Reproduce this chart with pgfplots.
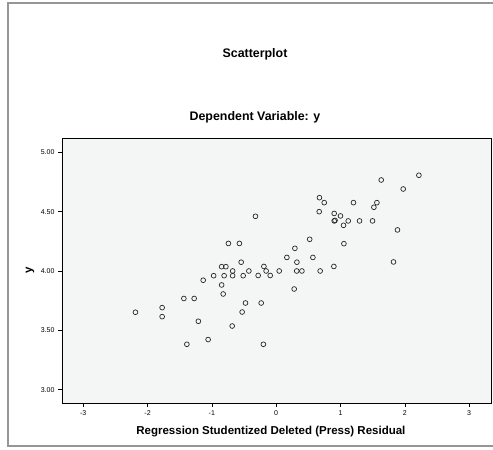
\documentclass[border=0pt]{standalone}
\usepackage{pgfplots}
\pgfplotsset{compat=1.18}
\usepackage{fontspec}
\setmainfont{Liberation Sans}
\definecolor{plotbg}{RGB}{244,246,246}
\definecolor{framegray}{RGB}{150,150,150}
\begin{document}
\begin{tikzpicture}
\fill[white, overlay] (-1000pt,-1000pt) rectangle (1000pt,1000pt);
\begin{axis}[
  scale only axis, width=429pt, height=265pt,
  xmin=-3.33, xmax=3.34, ymin=2.887, ymax=5.121,
  axis background/.style={fill=plotbg},
  axis line style={black, line width=0.8pt},
  tick pos=left, tick align=outside,
  major tick length=4pt,
  tick style={black, line width=0.6pt},
  xtick={-3,-2,-1,0,1,2,3},
  ytick={3,3.5,4,4.5,5},
  /pgf/number format/assume math mode=true,
  yticklabel style={/pgf/number format/.cd, fixed, fixed zerofill, precision=2},
  ticklabel style={font=\fontsize{7}{8}\selectfont},
  xlabel={Regression Studentized Deleted (Press) Residual},
  ylabel={y},
  xlabel style={font=\bfseries\fontsize{11.5}{13}\selectfont, at={(axis description cs:0.487,0)}, anchor=center, yshift=-28.7pt},
  ylabel style={font=\bfseries\fontsize{11.5}{13}\selectfont, at={(axis description cs:0,0.5)}, anchor=center, yshift=32pt},
]
\addplot[only marks, mark=o, mark size=2.4pt, mark options={black!85, line width=0.7pt}] coordinates {
(-2.188,3.652) (-1.773,3.691) (-1.773,3.615) (-1.435,3.768) (-1.275,3.768)
(-1.389,3.382) (-1.210,3.576) (-1.058,3.422) (-1.135,3.922) (-0.972,3.960)
(-0.848,4.036) (-0.782,4.036) (-0.848,3.882) (-0.824,3.806) (-0.809,3.960)
(-0.743,4.232) (-0.572,4.232) (-0.677,4.000) (-0.677,3.960) (-0.684,3.536)
(-0.544,4.074) (-0.529,3.654) (-0.513,3.960) (-0.477,3.730) (-0.425,4.000)
(-0.322,4.461) (-0.280,3.962) (-0.233,3.730) (-0.199,3.382) (-0.191,4.038)
(-0.156,4.000) (-0.093,3.962) (0.047,4.000) (0.166,4.114) (0.280,3.848)
(0.291,4.191) (0.322,4.074) (0.319,4.000) (0.400,4.000) (0.521,4.267)
(0.571,4.114) (0.673,4.618) (0.747,4.576) (0.669,4.500) (0.684,4.000)
(0.902,4.485) (0.902,4.422) (0.915,4.426) (0.897,4.038) (1.000,4.464) (1.047,4.385)
(1.053,4.230) (1.120,4.422) (1.202,4.576) (1.296,4.422) (1.498,4.422)
(1.519,4.537) (1.566,4.576) (1.633,4.767) (1.824,4.076) (1.886,4.346)
(1.975,4.691) (2.219,4.807)
};
\coordinate (A) at (rel axis cs:0,0);
\end{axis}
\pgfresetboundingbox
\begin{scope}[shift={(A)}, xshift=-62pt, yshift=-47pt, x=1pt, y=1pt]
\useasboundingbox (0,0) rectangle (493,450);
\draw[framegray, line width=2pt] (494,447) -- (8,447) -- (8,4) -- (494,4);
\node[font=\bfseries\fontsize{12.4}{14}\selectfont] at (255,396) {Scatterplot};
\node[font=\bfseries\fontsize{12.4}{14}\selectfont] at (255,333) {Dependent Variable: y};
\end{scope}
\end{tikzpicture}
\end{document}
